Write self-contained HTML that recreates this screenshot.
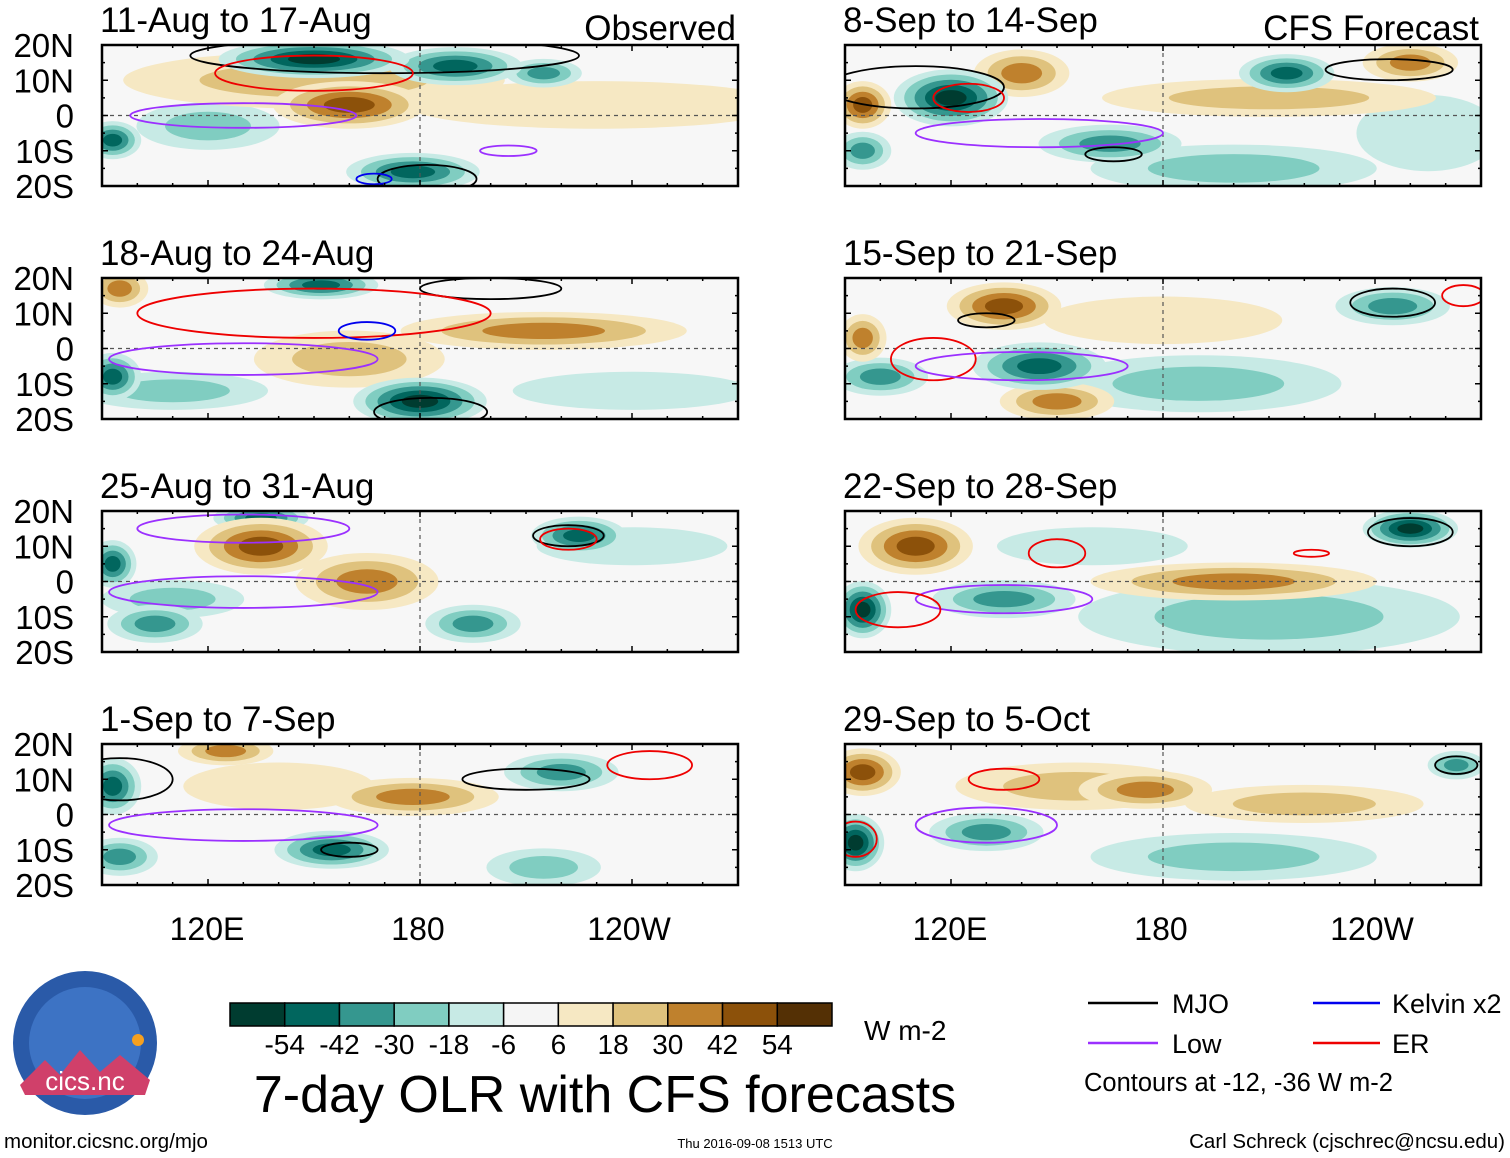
<!DOCTYPE html>
<html><head><meta charset="utf-8"><title>7-day OLR with CFS forecasts</title>
<style>
html,body{margin:0;padding:0;background:#fff;}
svg{display:block;font-family:"Liberation Sans",Arial,sans-serif;}
</style></head>
<body>
<svg id="fig" width="1510" height="1158" viewBox="0 0 1510 1158" xmlns="http://www.w3.org/2000/svg">
  <g id="panels"></g>

  <g font-size="32" text-anchor="middle">
    <text x="207" y="940">120E</text>
    <text x="418" y="940">180</text>
    <text x="629" y="940">120W</text>
  </g>
  <g font-size="32" text-anchor="middle">
    <text x="950" y="940">120E</text>
    <text x="1161" y="940">180</text>
    <text x="1372" y="940">120W</text>
  </g>

  <g id="colorbar"></g>
  <text x="864" y="1040" font-size="28">W m-2</text>

  <text x="605" y="1112" font-size="52" text-anchor="middle">7-day OLR with CFS forecasts</text>

  <g>
    <g><line x1="1088" y1="1003" x2="1158" y2="1003" stroke="#000" stroke-width="2.5"/><text x="1172" y="1013" font-size="27">MJO</text></g>
    <g><line x1="1313" y1="1003" x2="1380" y2="1003" stroke="#0000ee" stroke-width="2.5"/><text x="1392" y="1013" font-size="27">Kelvin x2</text></g>
    <g><line x1="1088" y1="1043" x2="1158" y2="1043" stroke="#9b30ff" stroke-width="2.5"/><text x="1172" y="1053" font-size="27">Low</text></g>
    <g><line x1="1313" y1="1043" x2="1380" y2="1043" stroke="#ee0000" stroke-width="2.5"/><text x="1392" y="1053" font-size="27">ER</text></g>
    <text x="1084" y="1091" font-size="25.5">Contours at -12, -36 W m-2</text>
  </g>

  <g>
    <circle cx="85" cy="1043" r="72" fill="#2a5aa8"/>
    <circle cx="85" cy="1043" r="56" fill="#3d73c4"/>
    <path d="M20 1085 L45 1060 L60 1075 L80 1050 L100 1072 L120 1055 L150 1080 L145 1095 L25 1095 Z" fill="#d0406a"/>
    <circle cx="138" cy="1040" r="6" fill="#f5a020"/>
    <text x="85" y="1090" font-size="26" fill="#fff" text-anchor="middle">cics.nc</text>
  </g>

  <text x="4" y="1148" font-size="20.5">monitor.cicsnc.org/mjo</text>
  <text x="755" y="1148" font-size="13" text-anchor="middle">Thu 2016-09-08 1513 UTC</text>
  <text x="1505" y="1148" font-size="20.5" text-anchor="end">Carl Schreck (cjschrec@ncsu.edu)</text>
</svg>
<script>
const cbLevels = [-54,-42,-30,-18,-6,6,18,30,42,54];
const cbColors = ["#003c30","#01665e","#35978f","#80cdc1","#c7eae5","#f5f5f5","#f6e8c3","#dfc27d","#bf812d","#8c510a","#543005"];
const panelTitles = ["11-Aug to 17-Aug","18-Aug to 24-Aug","25-Aug to 31-Aug","1-Sep to 7-Sep","8-Sep to 14-Sep","15-Sep to 21-Sep","22-Sep to 28-Sep","29-Sep to 5-Oct"];
const latLabels = ["20N","10N","0","10S","20S"];
const latValues = [20,10,0,-10,-20];
// anomaly blobs per panel: [lon, lat, value, halfwidth lon deg, halfheight lat deg]
const blobs0 = [[150,10,20,40,6],[230,3,10,40,5],[160,3,42,16,5],[150,16,-54,20,4],[190,14,-42,14,4],[215,12,-30,8,3],[178,-16,-42,14,4],[93,-7,-40,6,4],[120,-3,-18,15,5]];
const blobs1 = [[215,5,36,30,4],[160,-3,20,20,6],[180,-15,-50,14,5],[93,-8,-45,6,5],[152,18,-40,12,3],[95,17,30,6,4],[110,-12,-18,20,4],[240,-12,-12,25,4]];
const blobs2 = [[135,10,42,14,6],[165,0,25,15,6],[135,18,-40,10,3],[225,13,-45,10,4],[93,5,-40,5,5],[105,-12,-35,10,4],[195,-12,-30,10,4],[240,10,-12,20,4],[110,-5,-18,15,4]];
const blobs3 = [[93,8,-40,6,6],[155,-10,-45,12,4],[220,12,-35,12,4],[95,-12,-30,8,4],[178,5,30,18,4],[215,-15,-20,12,4],[125,18,25,10,3],[140,8,12,20,5]];
const blobs4 = [[120,5,-54,12,6],[95,3,40,6,5],[140,12,36,10,5],[165,-8,-25,15,4],[215,12,-45,10,4],[200,-15,-20,30,5],[250,15,30,10,4],[210,5,15,35,4],[95,-10,-35,6,4],[255,-5,-12,15,8]];
const blobs5 = [[135,12,40,12,5],[145,-5,-40,14,5],[100,-8,-25,10,4],[150,-15,30,12,4],[95,3,30,5,5],[245,12,-25,12,4],[190,-10,-15,30,6],[180,8,12,25,5]];
const blobs6 = [[110,10,42,12,6],[95,-8,-54,6,6],[200,0,25,30,4],[250,15,-50,10,4],[210,-10,-15,40,8],[135,-5,-25,15,4],[160,10,-12,20,4]];
const blobs7 = [[95,12,40,8,5],[93,-8,-54,6,6],[175,7,36,14,4],[220,3,15,25,4],[130,-5,-30,12,4],[263,14,-35,6,3],[200,-12,-15,30,5],[155,8,18,25,5]];
const panelBlobs = [blobs0,blobs1,blobs2,blobs3,blobs4,blobs5,blobs6,blobs7];
// contours per panel: [type, lon, lat, halfwidth lon, halfheight lat]
const contours0 = [["mjo",170,17,55,5],["er",150,12,28,5],["low",130,0,32,3.5],["low",205,-10,8,1.5],["mjo",182,-18,14,4],["kelvin",167,-18,5,1.5]];
const contours1 = [["mjo",200,17,20,3],["er",150,10,50,7],["kelvin",165,5,8,2.5],["low",130,-3,38,4.5],["mjo",183,-18,16,4]];
const contours2 = [["mjo",222,13,10,3],["er",222,12,8,3],["low",130,-3,38,4.5],["low",130,15,30,4]];
const contours3 = [["mjo",95,10,15,6],["low",130,-3,38,4.5],["mjo",210,10,18,3],["mjo",160,-10,8,2],["er",245,14,12,4]];
const contours4 = [["mjo",110,8,25,6],["er",125,5,10,4],["low",145,-5,35,4],["mjo",244,13,18,3],["mjo",166,-11,8,2]];
const contours5 = [["mjo",130,8,8,2],["er",115,-3,12,6],["low",140,-5,30,4],["mjo",245,13,12,4],["er",265,15,6,3]];
const contours6 = [["er",150,8,8,4],["low",135,-5,25,4],["mjo",250,14,12,4],["er",105,-8,12,5],["er",222,8,5,1]];
const contours7 = [["er",135,10,10,3],["low",130,-3,20,5],["mjo",263,14,6,2.5],["er",93,-7,6,5]];
const panelContours = [contours0,contours1,contours2,contours3,contours4,contours5,contours6,contours7];

const NS = "http://www.w3.org/2000/svg";
function mk(tag, attrs, parent){const e=document.createElementNS(NS,tag);for(const k in attrs)e.setAttribute(k,attrs[k]);if(parent)parent.appendChild(e);return e;}

const lon0=90, lon1=270, lat0=-20, lat1=20;
const panelW=636, panelH=141;
const blobScale=1.35;
const lefts=[102,102,102,102,845,845,845,845];
const tops=[45,278,511,744,45,278,511,744];
const strokeColors={mjo:"#000",er:"#ee0000",low:"#9b30ff",kelvin:"#0000ee"};

function colorFor(v){let i=0;while(i<cbLevels.length && v>cbLevels[i])i++;return cbColors[i];}

const panelsG=document.getElementById('panels');
for(let p=0;p<8;p++){
  const L=lefts[p], T=tops[p];
  const xs=lon=>L+(lon-lon0)/(lon1-lon0)*panelW;
  const ys=lat=>T+(lat1-lat)/(lat1-lat0)*panelH;
  const g=mk('g',{},panelsG);
  
  
  const cid='clip'+p;
  const cp=mk('clipPath',{id:cid},g);
  mk('rect',{x:L,y:T,width:panelW,height:panelH},cp);
  const bg=mk('rect',{x:L,y:T,width:panelW,height:panelH,fill:"#f7f7f7"},g);
  
  
  const inner=mk('g',{'clip-path':'url(#'+cid+')'},g);
  const sorted=panelBlobs[p].slice().sort((a,b)=>Math.abs(a[2])-Math.abs(b[2]));
  for(const b of sorted){
    const [lon,lat,val,hw,hh]=b;
    const sgn=Math.sign(val), mag=Math.abs(val);
    const steps=[6,18,30,42,54].filter(t=>mag>t-6);
    steps.forEach((t,k)=>{
      const f=blobScale*(1-k/(steps.length+0.5));
      const e=mk('ellipse',{cx:xs(lon),cy:ys(lat),rx:Math.abs(xs(lon+hw*f)-xs(lon)),ry:Math.abs(ys(lat+hh*f)-ys(lat)),fill:colorFor(sgn*(t+1))},inner);
      
      
    });
  }
  mk('line',{x1:L,y1:ys(0),x2:L+panelW,y2:ys(0),stroke:"#555","stroke-dasharray":"4,4","stroke-width":1.2},inner);
  mk('line',{x1:xs(180),y1:T,x2:xs(180),y2:T+panelH,stroke:"#555","stroke-dasharray":"4,4","stroke-width":1.2},inner);
  for(const c of panelContours[p]){
    const [type,lon,lat,hw,hh]=c;
    const e=mk('ellipse',{cx:xs(lon),cy:ys(lat),rx:Math.abs(xs(lon+hw)-xs(lon)),ry:Math.abs(ys(lat+hh)-ys(lat)),fill:"none",stroke:strokeColors[type],"stroke-width":1.8},inner);
    
    
  }
  mk('rect',{x:L,y:T,width:panelW,height:panelH,fill:"none",stroke:"#000","stroke-width":2.5},g);
  for(let lon=lon0;lon<=lon1;lon+=10){
    const len=(lon%60===0)?6:3;
    mk('line',{x1:xs(lon),y1:T,x2:xs(lon),y2:T+len,stroke:"#000","stroke-width":1.5},g);
    mk('line',{x1:xs(lon),y1:T+panelH,x2:xs(lon),y2:T+panelH-len,stroke:"#000","stroke-width":1.5},g);
  }
  for(let lat=-20;lat<=20;lat+=5){
    const len=(lat%10===0)?6:3;
    mk('line',{x1:L,y1:ys(lat),x2:L+len,y2:ys(lat),stroke:"#000","stroke-width":1.5},g);
    mk('line',{x1:L+panelW,y1:ys(lat),x2:L+panelW-len,y2:ys(lat),stroke:"#000","stroke-width":1.5},g);
  }
  if(p<4){
    latValues.forEach((lat,i)=>{
      const t=mk('text',{x:L-28,y:ys(lat)+12,'font-size':33,'text-anchor':'end'},g);
      t.textContent=latLabels[i];
      
      
    });
  }
  const tt=mk('text',{x:L-2,y:T-13,'font-size':35},g);
  tt.textContent=panelTitles[p];
  
  
  if(p===0||p===4){
    const st=mk('text',{x:L+panelW-2,y:T-5,'font-size':35,'text-anchor':'end'},g);
    st.textContent=p===0?"Observed":"CFS Forecast";
    
    
  }
}

const cb=document.getElementById('colorbar');
const cbX=230, cbY=1003, cbW=602, cbH=23, boxW=cbW/cbColors.length;
cbColors.forEach((c,i)=>{
  const r=mk('rect',{x:cbX+i*boxW,y:cbY,width:boxW,height:cbH,fill:c,stroke:"#000","stroke-width":1.5},cb);
  
  
});
cbLevels.forEach((v,i)=>{
  const t=mk('text',{x:cbX+(i+1)*boxW,y:1054,'font-size':28,'text-anchor':'middle'},cb);
  t.textContent=String(v);
  
  
});
</script>
</body></html>
